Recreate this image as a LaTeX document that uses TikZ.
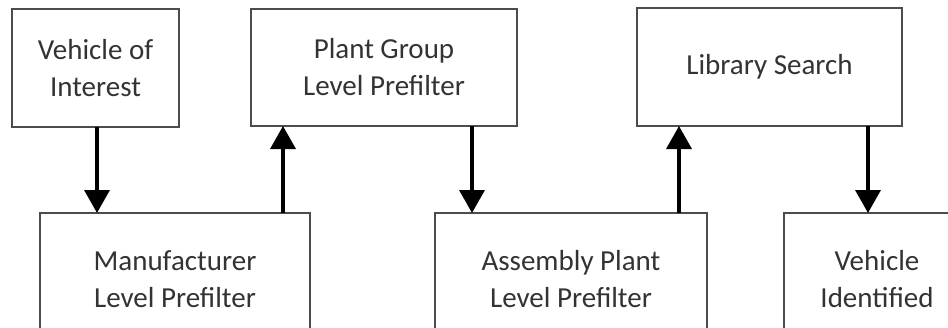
\documentclass[tikz,border=0pt]{standalone}
\usepackage{fontspec}
\setmainfont{Carlito}
\usetikzlibrary{arrows.meta}

\tikzset{
  stage/.style={draw=black!70, line width=1.4pt, inner sep=0pt, outer sep=0pt,
    align=center, text=black!80, font=\fontsize{29}{37}\selectfont},
  flow/.style={line width=3.6pt, -{Triangle[width=25pt,length=23pt]}}
}

\begin{document}
\begin{tikzpicture}[x=1pt,y=-1pt]
\useasboundingbox (0,0) rectangle (948,327);
\clip (0,0) rectangle (948,327);
% upper row
\node[stage, minimum width=167pt, minimum height=118pt] (voi) at (95.5,68) {Vehicle of\\Interest};
\node[stage, minimum width=266pt, minimum height=117pt] (pgroup) at (384,67.5) {Plant Group\\Level Prefilter};
\node[stage, minimum width=265pt, minimum height=118pt] (libsearch) at (769.5,67) {Library Search};
% lower row
\node[stage, minimum width=270pt, minimum height=132pt] (manuf) at (175,279) {Manufacturer\\Level Prefilter};
\node[stage, minimum width=272pt, minimum height=132pt] (asmplant) at (571,279) {Assembly Plant\\Level Prefilter};
\node[stage, minimum width=186pt, minimum height=132pt] (vehid) at (877,279) {Vehicle\\Identified};
% arrows
\draw[flow] ([xshift=1.5pt]voi.south) -- ([xshift=1.5pt]voi.south |- manuf.north);
\draw[flow] ([xshift=-27pt]manuf.north east) -- ([xshift=-27pt]manuf.north east |- pgroup.south);
\draw[flow] ([xshift=-45pt]pgroup.south east) -- ([xshift=-45pt]pgroup.south east |- asmplant.north);
\draw[flow] ([xshift=-28pt]asmplant.north east) -- ([xshift=-28pt]asmplant.north east |- libsearch.south);
\draw[flow] ([xshift=-34pt]libsearch.south east) -- ([xshift=-34pt]libsearch.south east |- vehid.north);
\end{tikzpicture}
\end{document}
